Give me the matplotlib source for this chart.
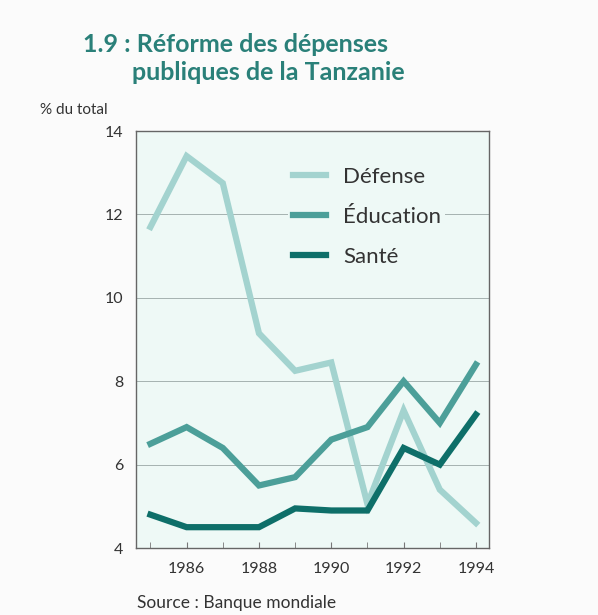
import matplotlib
matplotlib.use("Agg")
import matplotlib.pyplot as plt
from matplotlib.ticker import MultipleLocator

plt.rcParams['font.family'] = ['Lato', 'DejaVu Sans']

years = [1985, 1986, 1987, 1988, 1989, 1990, 1991, 1992, 1993, 1994]
defense = [11.7, 13.4, 12.75, 9.15, 8.25, 8.45, 5.05, 7.3, 5.4, 4.6]
education = [6.5, 6.9, 6.4, 5.5, 5.7, 6.6, 6.9, 8.0, 7.0, 8.4]
sante = [4.8, 4.5, 4.5, 4.5, 4.95, 4.9, 4.9, 6.4, 6.0, 7.2]
names = ["Défense", "Éducation", "Santé"]
colors = ["#a3d3cf", "#4c9f99", "#0e6f69"]

fig = plt.figure(figsize=(5.98, 6.15), dpi=100, facecolor="#fbfbfb")
ax = fig.add_axes([0.2274, 0.1089, 0.5903, 0.678], facecolor="#eef9f6")

for series, name, c in zip([defense, education, sante], names, colors):
    ax.plot(years, series, color=c, lw=4.5, label=name, solid_joinstyle="miter")

ax.set_xlim(1984.6, 1994.36)
ax.set_ylim(4, 14)
ax.set_xticks([1986, 1988, 1990, 1992, 1994])
ax.xaxis.set_minor_locator(MultipleLocator(1))
ax.set_yticks([4, 6, 8, 10, 12, 14])
ax.yaxis.grid(True, color="#9aa7a5", lw=0.6)
ax.set_axisbelow(True)
ax.tick_params(axis="x", which="both", direction="in", length=4, color="#777777",
               labelsize=11.5, labelcolor="#333333", pad=10)
ax.tick_params(axis="y", length=0, labelsize=11.5, labelcolor="#333333", pad=9)
for s in ax.spines.values():
    s.set_color("#666666")
    s.set_linewidth(1)

leg = ax.legend(loc="upper left", bbox_to_anchor=(0.432, 0.924), frameon=True,
                fontsize=16, handlelength=1.5, handletextpad=0.75, labelspacing=0.9,
                borderpad=0.2, borderaxespad=0)
leg.get_frame().set_facecolor("#eef9f6")
leg.get_frame().set_edgecolor("none")
leg.get_frame().set_alpha(1)
for t in leg.get_texts():
    t.set_color("#333333")

title_color = "#2a8079"
fig.text(83 / 598, 1 - 44 / 615, "1.9 : Réforme des dépenses", fontsize=18,
         fontweight="bold", color=title_color, va="center")
fig.text(132 / 598, 1 - 73 / 615, "publiques de la Tanzanie", fontsize=18,
         fontweight="bold", color=title_color, va="center")
fig.text(40 / 598, 1 - 110 / 615, "% du total", fontsize=11, color="#333333", va="center")
fig.text(137 / 598, 1 - 603 / 615, "Source : Banque mondiale", fontsize=12.5,
         color="#333333", va="center")

fig.savefig("out.png", dpi=100, facecolor=fig.get_facecolor())
